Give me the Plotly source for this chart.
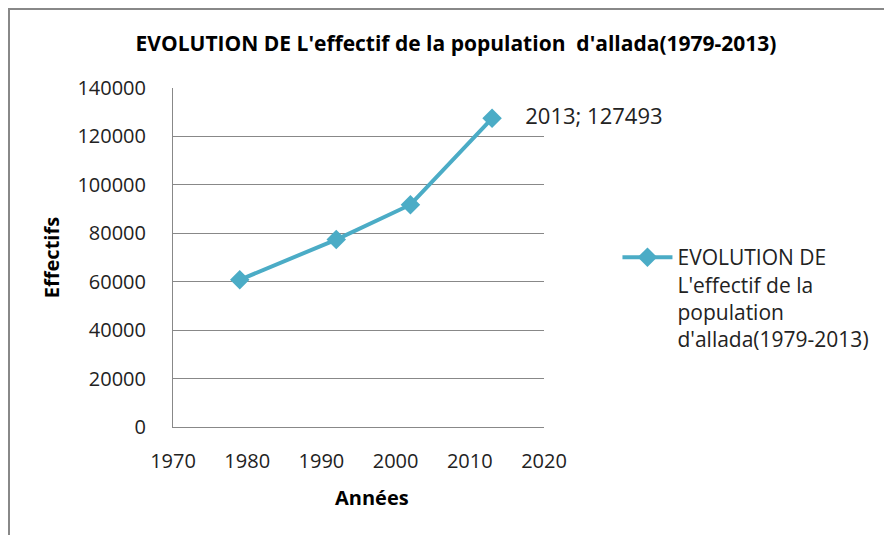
import plotly.graph_objects as go

annees = [1979, 1992, 2002, 2013]
effectifs = [60800, 77400, 91800, 127493]
serie_nom = "EVOLUTION DE<br>L'effectif de la<br>population<br>d'allada(1979-2013)"
titre = "EVOLUTION DE L'effectif de la population  d'allada(1979-2013)"
y_ticks = [0, 20000, 40000, 60000, 80000, 100000, 120000, 140000]
x_ticks = [1970, 1980, 1990, 2000, 2010, 2020]

color = "#4bacc6"
font_main = "Open Sans, sans-serif"

labels = ["" for _ in annees]
labels[-1] = f"    {annees[-1]}; {effectifs[-1]}"

# the page body has an 8px margin; the figure is sized/placed to compensate
OFF = 8
fig = go.Figure()
fig.add_trace(go.Scatter(
    x=annees, y=effectifs, mode="lines+markers+text",
    name=serie_nom,
    line=dict(color=color, width=4),
    marker=dict(symbol="diamond", size=15, color=color),
    text=labels, textposition="middle right", cliponaxis=False,
    textfont=dict(family=font_main, size=22, color="#222"),
))

fig.update_layout(
    width=892 - OFF, height=535 - OFF,
    margin=dict(l=173 - OFF, r=348, t=88 - OFF, b=108, autoexpand=False),
    paper_bgcolor="white", plot_bgcolor="white",
    title=dict(text=titre, x=(456 - OFF) / (892 - OFF), xanchor="center",
               y=1 - (44 - OFF) / (535 - OFF), yanchor="middle",
               font=dict(family=font_main, size=21, color="black", weight="bold")),
    showlegend=True,
    legend=dict(x=1.198, xanchor="left", y=(427 - 237) / 339, yanchor="top",
                font=dict(family=font_main, size=21, color="#222"),
                valign="top", tracegroupgap=0, itemwidth=50),
    xaxis=dict(range=[1970, 2020], tickvals=x_ticks, showgrid=False,
               showline=True, linecolor="#888", linewidth=1, ticks="",
               tickfont=dict(family=font_main, size=20, color="#222"),
               ticklabelstandoff=16),
    yaxis=dict(range=[0, 140000], tickvals=y_ticks, tickformat="d",
               showgrid=True, gridcolor="#888",
               gridwidth=1, showline=True, linecolor="#888", linewidth=1, ticks="",
               zeroline=False,
               tickfont=dict(family=font_main, size=20, color="#222"),
               ticklabelstandoff=22,
               title=dict(text="Effectifs", standoff=12,
                          font=dict(family=font_main, size=20, color="black", weight="bold"))),
)

fig.add_annotation(text="Années", xref="paper", yref="paper",
                   x=(372 - 173) / 371, y=-(497 - 427) / 339,
                   xanchor="center", yanchor="middle", showarrow=False,
                   font=dict(family=font_main, size=20, color="black", weight="bold"))

fig.add_shape(type="rect", xref="paper", yref="paper",
              x0=(9 - 173) / 371, x1=3, y0=-2, y1=(427 - 9) / 339,
              line=dict(color="#888", width=2), layer="below")

fig.write_html("out.html")
